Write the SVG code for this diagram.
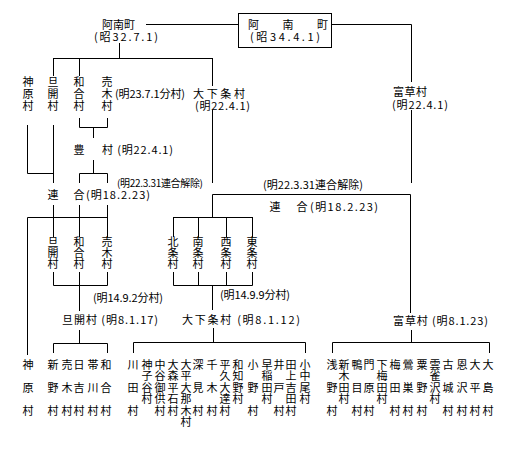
<svg xmlns="http://www.w3.org/2000/svg" width="520" height="450" viewBox="0 0 520 450">
<style>
text{font-family:"Noto Sans CJK JP","Noto Sans CJK SC",sans-serif;font-size:11px;fill:#000}
.v{text-anchor:middle}
.c line,.c polyline{stroke:#000;stroke-width:1;fill:none}
</style>
<rect width="520" height="450" fill="#fff"/>
<g class="c" id="connectors">
<line x1="146" y1="24.5" x2="238" y2="24.5"/>
<polyline points="331,24.5 411.5,24.5 411.5,82"/>
<line x1="119.5" y1="43" x2="119.5" y2="58"/>
<line x1="53" y1="58.5" x2="212" y2="58.5"/>
<line x1="53.5" y1="58" x2="53.5" y2="76"/>
<line x1="79.5" y1="58" x2="79.5" y2="76"/>
<line x1="212.5" y1="58" x2="212.5" y2="86"/>
<polyline points="27.5,125 27.5,173.5 53,173.5"/>
<line x1="53.5" y1="125" x2="53.5" y2="183"/>
<polyline points="79.5,118 79.5,127.5 107.5,127.5 107.5,118"/>
<line x1="93.5" y1="127" x2="93.5" y2="138"/>
<line x1="93.5" y1="160" x2="93.5" y2="173"/>
<polyline points="79.5,183 79.5,173.5 107.5,173.5 107.5,183"/>
<line x1="212.5" y1="110" x2="212.5" y2="183"/>
<line x1="411.5" y1="110" x2="411.5" y2="183"/>
<line x1="53.5" y1="205" x2="53.5" y2="237"/>
<line x1="79.5" y1="205" x2="79.5" y2="237"/>
<line x1="107.5" y1="205" x2="107.5" y2="237"/>
<polyline points="107,217.5 27.5,217.5 27.5,355"/>
<polyline points="212.5,217 212.5,194.5 410.5,194.5 410.5,313"/>
<line x1="173" y1="217.5" x2="252" y2="217.5"/>
<line x1="173.5" y1="217" x2="173.5" y2="237"/>
<line x1="198.5" y1="217" x2="198.5" y2="237"/>
<line x1="226.5" y1="217" x2="226.5" y2="237"/>
<line x1="252.5" y1="217" x2="252.5" y2="237"/>
<polyline points="53.5,272 53.5,285.5 107.5,285.5 107.5,272"/>
<line x1="79.5" y1="272" x2="79.5" y2="311"/>
<polyline points="173.5,272 173.5,285.5 252.5,285.5 252.5,272"/>
<line x1="198.5" y1="272" x2="198.5" y2="285"/>
<line x1="226.5" y1="272" x2="226.5" y2="285"/>
<line x1="212.5" y1="285" x2="212.5" y2="310"/>
<line x1="79.5" y1="330" x2="79.5" y2="343"/>
<polyline points="53.5,353 53.5,343.5 107.5,343.5 107.5,353"/>
<line x1="213.5" y1="328" x2="213.5" y2="342"/>
<polyline points="133.5,353 133.5,342.5 305.5,342.5 305.5,353"/>
<line x1="411.5" y1="330" x2="411.5" y2="342"/>
<polyline points="332.5,353 332.5,342.5 489.5,342.5 489.5,353"/>
</g>
<g id="anan-s32"><text x="102" y="29" textLength="33">阿南町</text><text x="94" y="41" textLength="64">(昭32.7.1)</text></g>
<g id="anan-s34"><rect x="238.5" y="13.5" width="93" height="34" fill="none" stroke="#000"/><text x="248" y="29" textLength="80">阿 南 町</text><text x="250" y="41" textLength="70">(昭34.4.1)</text></g>
<g id="kamihara-top"><text class="v"><tspan x="28" y="86">神</tspan><tspan x="28" y="98">原</tspan><tspan x="28" y="110">村</tspan></text></g>
<g id="asake-top"><text class="v"><tspan x="53" y="86">旦</tspan><tspan x="53" y="98">開</tspan><tspan x="53" y="110">村</tspan></text></g>
<g id="wago-top"><text class="v"><tspan x="79" y="86">和</tspan><tspan x="79" y="98">合</tspan><tspan x="79" y="110">村</tspan></text></g>
<g id="urugi-top"><text class="v"><tspan x="107" y="86">売</tspan><tspan x="107" y="98">木</tspan><tspan x="107" y="110">村</tspan></text><text x="115" y="98" textLength="70">(明23.7.1分村)</text></g>
<g id="shimojo-m22"><text x="193" y="98" textLength="52">大下条村</text><text x="195" y="110" textLength="55">(明22.4.1)</text></g>
<g id="tomikusa-m22"><text x="393" y="96" textLength="34">富草村</text><text x="392" y="109" textLength="56">(明22.4.1)</text></g>
<g id="yutaka"><text class="v" x="79" y="154">豊</text><text x="102" y="154" textLength="71">村 (明22.4.1)</text></g>
<g id="kaijo-left"><text x="117" y="187" textLength="86" style="font-size:10px">(明22.3.31連合解除)</text></g>
<g id="kaijo-right"><text x="263" y="189" textLength="100">(明22.3.31連合解除)</text></g>
<g id="rengo-left"><text class="v" x="53" y="199">連</text><text class="v" x="79" y="199">合</text><text x="86" y="199" textLength="64">(明18.2.23)</text></g>
<g id="rengo-right"><text class="v" x="275" y="211">連</text><text class="v" x="302" y="211">合</text><text x="310" y="211" textLength="68">(明18.2.23)</text></g>
<g id="mid-asake"><text class="v"><tspan x="53" y="246">旦</tspan><tspan x="53" y="257">開</tspan><tspan x="53" y="268">村</tspan></text></g>
<g id="mid-wago"><text class="v"><tspan x="79" y="246">和</tspan><tspan x="79" y="257">合</tspan><tspan x="79" y="268">村</tspan></text></g>
<g id="mid-urugi"><text class="v"><tspan x="107" y="246">売</tspan><tspan x="107" y="257">木</tspan><tspan x="107" y="268">村</tspan></text></g>
<g id="hojo"><text class="v"><tspan x="173" y="246">北</tspan><tspan x="173" y="257">条</tspan><tspan x="173" y="268">村</tspan></text></g>
<g id="nanjo"><text class="v"><tspan x="198" y="246">南</tspan><tspan x="198" y="257">条</tspan><tspan x="198" y="268">村</tspan></text></g>
<g id="saijo"><text class="v"><tspan x="226" y="246">西</tspan><tspan x="226" y="257">条</tspan><tspan x="226" y="268">村</tspan></text></g>
<g id="tojo"><text class="v"><tspan x="252" y="246">東</tspan><tspan x="252" y="257">条</tspan><tspan x="252" y="268">村</tspan></text></g>
<g id="split-left"><text x="93" y="302" textLength="70">(明14.9.2分村)</text></g>
<g id="split-right"><text x="220" y="299" textLength="70">(明14.9.9分村)</text></g>
<g id="asake-m8"><text x="62" y="324" textLength="96">旦開村 (明8.1.17)</text></g>
<g id="shimojo-m8"><text x="182" y="324" textLength="118">大下条村 (明8.1.12)</text></g>
<g id="tomikusa-m8"><text x="393" y="325" textLength="95">富草村 (明8.1.23)</text></g>
<g id="bottom-villages">
<text class="v"><tspan x="28" y="369">神</tspan><tspan x="28" y="392">原</tspan><tspan x="28" y="415">村</tspan></text>
<text class="v"><tspan x="53" y="369">新</tspan><tspan x="53" y="392">野</tspan><tspan x="53" y="415">村</tspan></text>
<text class="v"><tspan x="67" y="369">売</tspan><tspan x="67" y="392">木</tspan><tspan x="67" y="415">村</tspan></text>
<text class="v"><tspan x="79" y="369">日</tspan><tspan x="79" y="392">吉</tspan><tspan x="79" y="415">村</tspan></text>
<text class="v"><tspan x="93" y="369">帯</tspan><tspan x="93" y="392">川</tspan><tspan x="93" y="415">村</tspan></text>
<text class="v"><tspan x="106" y="369">和</tspan><tspan x="106" y="392">合</tspan><tspan x="106" y="415">村</tspan></text>
<text class="v"><tspan x="133" y="369">川</tspan><tspan x="133" y="392">田</tspan><tspan x="133" y="415">村</tspan></text>
<text class="v"><tspan x="147" y="369">神</tspan><tspan x="147" y="380">子</tspan><tspan x="147" y="392">谷</tspan><tspan x="147" y="403">村</tspan></text>
<text class="v"><tspan x="160" y="369">中</tspan><tspan x="160" y="380">谷</tspan><tspan x="160" y="392">御</tspan><tspan x="160" y="403">供</tspan><tspan x="160" y="415">村</tspan></text>
<text class="v"><tspan x="173" y="369">大</tspan><tspan x="173" y="380">森</tspan><tspan x="173" y="392">平</tspan><tspan x="173" y="403">石</tspan><tspan x="173" y="415">村</tspan></text>
<text class="v"><tspan x="186" y="369">大</tspan><tspan x="186" y="380">平</tspan><tspan x="186" y="392">大</tspan><tspan x="186" y="403">那</tspan><tspan x="186" y="415">木</tspan><tspan x="186" y="426">村</tspan></text>
<text class="v"><tspan x="198" y="369">深</tspan><tspan x="198" y="392">見</tspan><tspan x="198" y="415">村</tspan></text>
<text class="v"><tspan x="212" y="369">千</tspan><tspan x="212" y="392">木</tspan><tspan x="212" y="415">村</tspan></text>
<text class="v"><tspan x="225" y="369">平</tspan><tspan x="225" y="380">久</tspan><tspan x="225" y="392">大</tspan><tspan x="225" y="403">達</tspan><tspan x="225" y="415">村</tspan></text>
<text class="v"><tspan x="238" y="369">和</tspan><tspan x="238" y="380">知</tspan><tspan x="238" y="392">野</tspan><tspan x="238" y="403">村</tspan></text>
<text class="v"><tspan x="253" y="369">小</tspan><tspan x="253" y="392">野</tspan><tspan x="253" y="415">村</tspan></text>
<text class="v"><tspan x="267" y="369">早</tspan><tspan x="267" y="380">稲</tspan><tspan x="267" y="392">田</tspan><tspan x="267" y="403">村</tspan></text>
<text class="v"><tspan x="279" y="369">井</tspan><tspan x="279" y="392">戸</tspan><tspan x="279" y="415">村</tspan></text>
<text class="v"><tspan x="291" y="369">田</tspan><tspan x="291" y="380">上</tspan><tspan x="291" y="392">吉</tspan><tspan x="291" y="403">田</tspan><tspan x="291" y="415">村</tspan></text>
<text class="v"><tspan x="305" y="369">小</tspan><tspan x="305" y="380">中</tspan><tspan x="305" y="392">尾</tspan><tspan x="305" y="403">村</tspan></text>
<text class="v"><tspan x="332" y="369">浅</tspan><tspan x="332" y="392">野</tspan><tspan x="332" y="415">村</tspan></text>
<text class="v"><tspan x="344" y="369">新</tspan><tspan x="344" y="380">木</tspan><tspan x="344" y="392">田</tspan><tspan x="344" y="403">村</tspan></text>
<text class="v"><tspan x="357" y="369">鴨</tspan><tspan x="357" y="392">目</tspan><tspan x="357" y="415">村</tspan></text>
<text class="v"><tspan x="369" y="369">門</tspan><tspan x="369" y="392">原</tspan><tspan x="369" y="415">村</tspan></text>
<text class="v"><tspan x="382" y="369">下</tspan><tspan x="382" y="380">梅</tspan><tspan x="382" y="392">田</tspan><tspan x="382" y="403">村</tspan></text>
<text class="v"><tspan x="395" y="369">梅</tspan><tspan x="395" y="392">田</tspan><tspan x="395" y="415">村</tspan></text>
<text class="v"><tspan x="408" y="369">鶯</tspan><tspan x="408" y="392">巣</tspan><tspan x="408" y="415">村</tspan></text>
<text class="v"><tspan x="422" y="369">粟</tspan><tspan x="422" y="392">野</tspan><tspan x="422" y="415">村</tspan></text>
<text class="v"><tspan x="435" y="369">雲</tspan><tspan x="435" y="380">雀</tspan><tspan x="435" y="392">沢</tspan><tspan x="435" y="403">村</tspan></text>
<text class="v"><tspan x="448" y="369">古</tspan><tspan x="448" y="392">城</tspan><tspan x="448" y="415">村</tspan></text>
<text class="v"><tspan x="462" y="369">恩</tspan><tspan x="462" y="392">沢</tspan><tspan x="462" y="415">村</tspan></text>
<text class="v"><tspan x="475" y="369">大</tspan><tspan x="475" y="392">平</tspan><tspan x="475" y="415">村</tspan></text>
<text class="v"><tspan x="488" y="369">大</tspan><tspan x="488" y="392">島</tspan><tspan x="488" y="415">村</tspan></text>
</g>
</svg>
